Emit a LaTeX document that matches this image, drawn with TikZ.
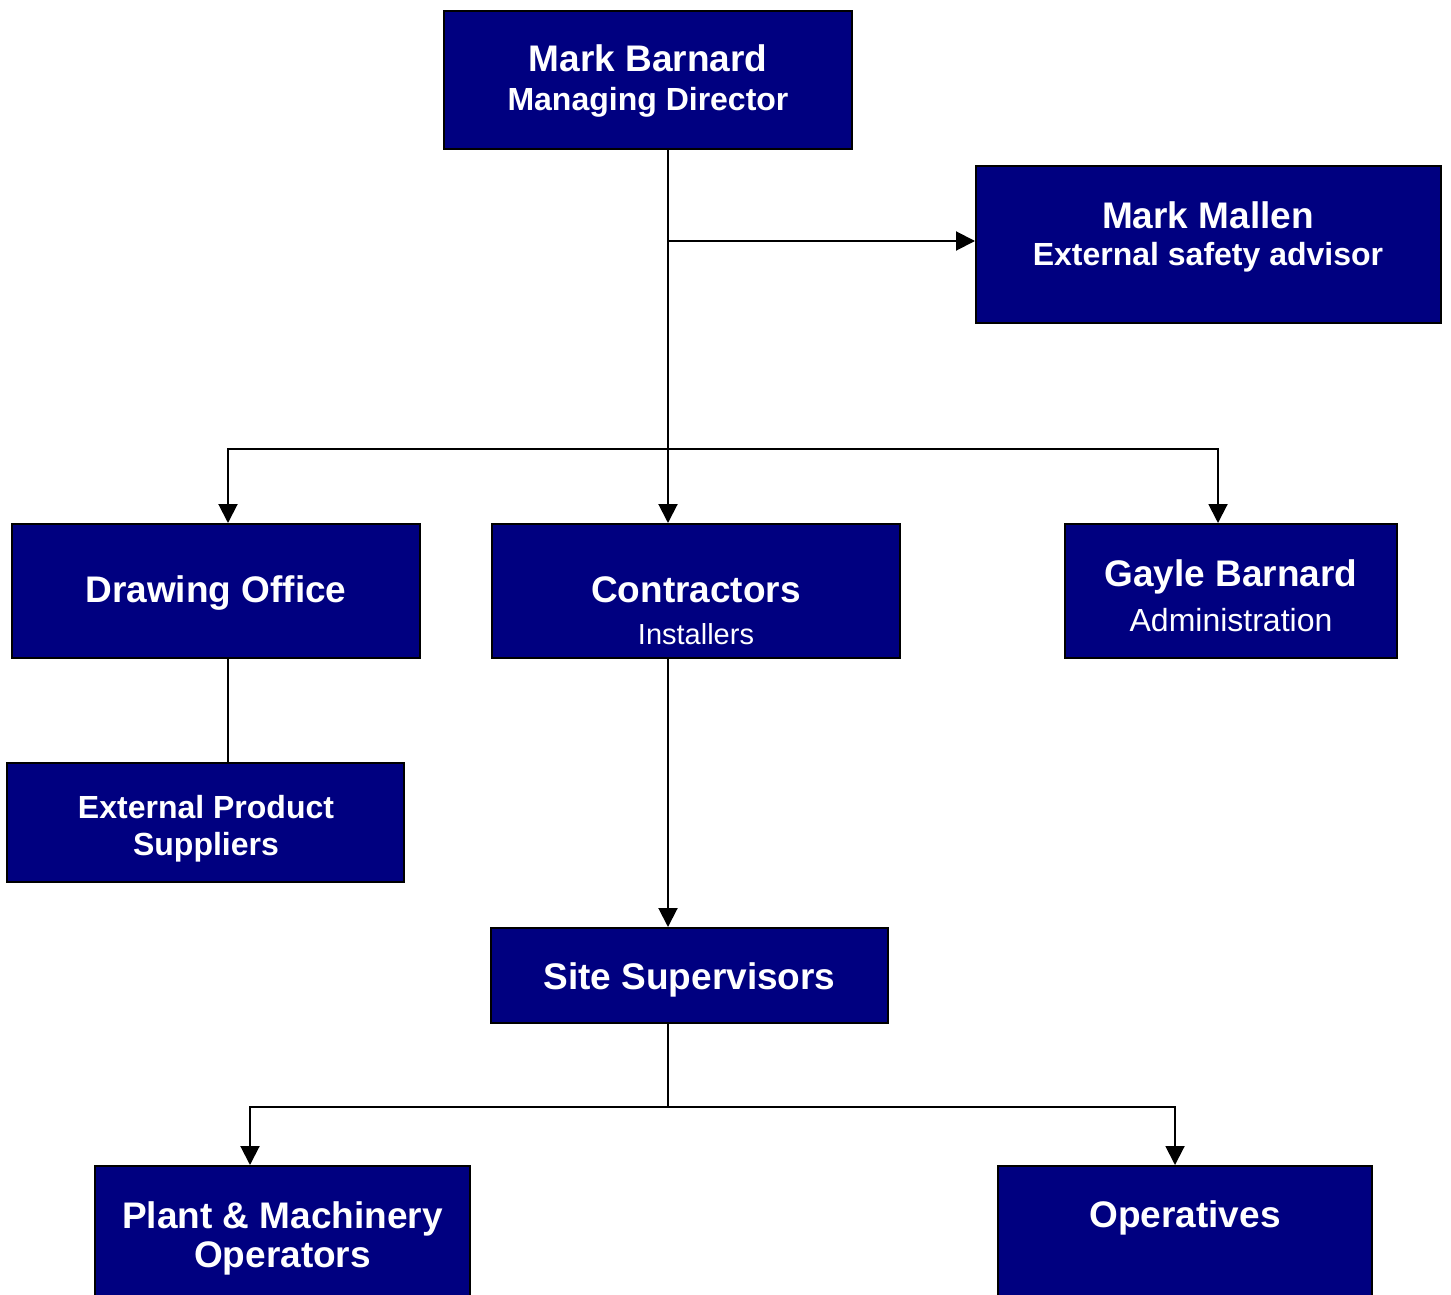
\documentclass[tikz,border=0pt]{standalone}
\usepackage{fontspec}
\setmainfont{Liberation Sans}
\usetikzlibrary{arrows.meta}
\definecolor{boxblue}{HTML}{000080}
\tikzset{
  box/.style={draw=black, line width=2pt, fill=boxblue, rectangle, inner sep=0pt},
  ttl/.style={anchor=base, text=white, inner sep=0pt, font=\fontsize{37}{44}\selectfont\bfseries},
  sub/.style={anchor=base, text=white, inner sep=0pt, font=\fontsize{32}{38}\selectfont\bfseries},
  subr/.style={anchor=base, text=white, inner sep=0pt, font=\fontsize{32}{38}\selectfont},
  conn/.style={draw=black, line width=2pt},
  arr/.style={conn, -{Triangle[length=19pt, width=19pt]}}
}
\begin{document}
\begin{tikzpicture}[x=1pt, y=-1pt]
\useasboundingbox (0,0) rectangle (1451,1295);
\clip (0,0) rectangle (1451,1295);
% boxes
\node[box, minimum width=408pt, minimum height=138pt] (md) at (648,80) {};
\node[box, minimum width=465pt, minimum height=157pt] (mm) at (1208.5,244.5) {};
\node[box, minimum width=408pt, minimum height=134pt] (do) at (216,591) {};
\node[box, minimum width=408pt, minimum height=134pt] (co) at (696,591) {};
\node[box, minimum width=332pt, minimum height=134pt] (gb) at (1231,591) {};
\node[box, minimum width=397pt, minimum height=119pt] (eps) at (205.5,822.5) {};
\node[box, minimum width=397pt, minimum height=95pt] (ss) at (689.5,975.5) {};
\node[box, minimum width=375pt, minimum height=160pt] (pm) at (282.5,1246) {};
\node[box, minimum width=374pt, minimum height=160pt] (op) at (1185,1246) {};
% texts
\node[ttl] (mdt1) at (648,72) {Mark Barnard};
\node[sub] (mdt2) at (648,111) {Managing Director};
\node[ttl] (mmt1) at (1208,228) {Mark Mallen};
\node[sub] (mmt2) at (1208,265) {External safety advisor};
\node[ttl] (dot1) at (216,602) {Drawing Office};
\node[ttl] (cot1) at (696,602) {Contractors};
\node[subr, font=\fontsize{29}{34}\selectfont] (cot2) at (696,644) {Installers};
\node[ttl] (gbt1) at (1231,586) {Gayle Barnard};
\node[subr] (gbt2) at (1231,631) {Administration};
\node[sub] (epst1) at (206,818) {External Product};
\node[sub] (epst2) at (206,855) {Suppliers};
\node[ttl] (sst1) at (689.5,989) {Site Supervisors};
\node[ttl] (pmt1) at (282.5,1228) {Plant \& Machinery};
\node[ttl] (pmt2) at (282.5,1267) {Operators};
\node[ttl] (opt1) at (1185,1227) {Operatives};
% connector points
\coordinate (hub) at (668,449);
\coordinate (split) at (668,241);
\coordinate (dl) at (228,449);
\coordinate (gl) at (1218,449);
\coordinate (sb) at (668,1107);
\coordinate (pl) at (250,1107);
\coordinate (ol) at (1175,1107);
% connectors
\draw[conn] (hub |- md.south) -- (hub);
\draw[arr] (split) -- (mm.west |- split);
\draw[arr] (hub) -- (hub |- co.north);
\draw[arr] (hub) -- (dl) -- (dl |- do.north);
\draw[arr] (hub) -- (gl) -- (gl |- gb.north);
\draw[conn] (dl |- do.south) -- (dl |- eps.north);
\draw[arr] (hub |- co.south) -- (hub |- ss.north);
\draw[conn] (hub |- ss.south) -- (sb);
\draw[arr] (sb) -- (pl) -- (pl |- pm.north);
\draw[arr] (sb) -- (ol) -- (ol |- op.north);
\end{tikzpicture}
\end{document}
